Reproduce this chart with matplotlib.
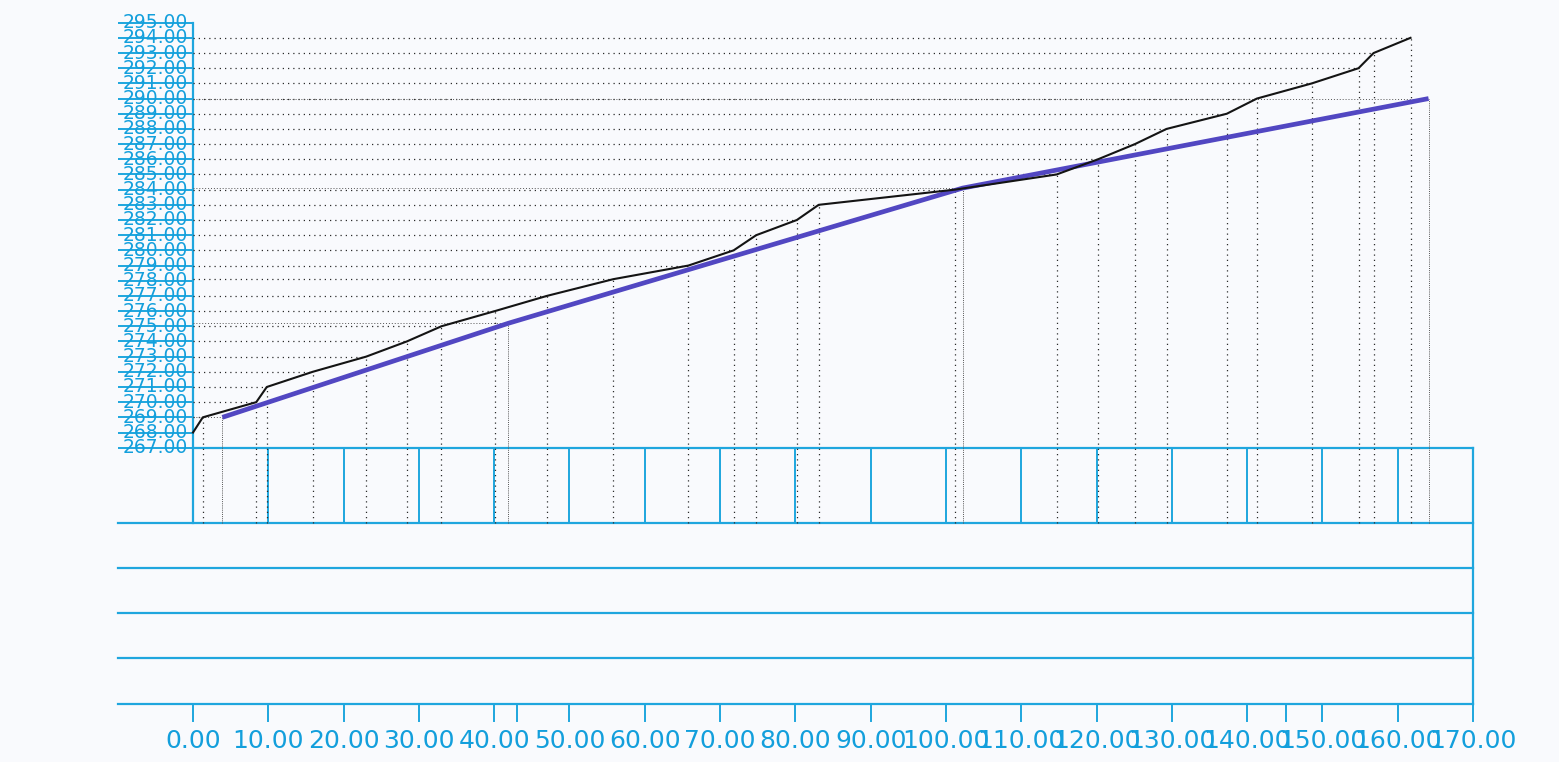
import matplotlib
matplotlib.use("Agg")
import matplotlib.pyplot as plt

# ---------------- data ----------------
ground_station = [0.0, 1.3, 8.4, 9.8, 15.9, 23.0, 28.4, 33.0, 40.1, 47.0, 55.8,
                  65.8, 71.8, 74.8, 80.2, 83.1, 101.2, 114.7, 120.2, 125.1,
                  129.3, 137.3, 141.3, 148.6, 154.8, 156.8, 161.7]
ground_elev = [268.0, 269.0, 270.0, 271.0, 272.0, 273.0, 274.0, 275.0, 276.0,
               277.0, 278.1, 279.0, 280.0, 281.0, 282.0, 283.0, 284.0, 285.0,
               286.0, 287.0, 288.0, 289.0, 290.0, 291.0, 292.0, 293.0, 294.0]
design_station = [3.9, 41.9, 102.2, 164.1]
design_elev = [269.0, 275.2, 284.1, 290.0]
elev_ticks = list(range(267, 296))
station_ticks = list(range(0, 171, 10))
extra_station_ticks = [43.0, 145.2]

# ---------------- layout helpers (pixel -> data) ----------------
W, H = 1559, 762
X0PX, XS = 193.0, 1280.0 / 170.0
Y0PX, YS = 447.7, 15.18


def ypx(p):
    return 267.0 - (p - Y0PX) / YS


BLUE = "#1fa6de"
TXT = "#139fdc"
DOT = "#2b2b2b"

fig = plt.figure(figsize=(W / 100, H / 100), dpi=100)
fig.patch.set_facecolor("#f9fafd")
ax = fig.add_axes([0, 0, 1, 1])
ax.set_facecolor("#f9fafd")
ax.set_xlim(-X0PX / XS, (W - X0PX) / XS)
ax.set_ylim(ypx(H), ypx(0))
ax.axis("off")

left = -10.0
right = 170.0
row_lines = [ypx(p) for p in (522.7, 567.7, 613.0, 658.0, 704.0)]
box_bottom = row_lines[0]

# elevation scale lines and labels
for e in elev_ticks:
    ax.plot([left, 0], [e, e], color=BLUE, lw=1.4, solid_capstyle="butt")
    ax.text(-5.0, e, f"{e:.2f}", color=TXT, fontsize=13.5, ha="center",
            va="center", family="DejaVu Sans")
ax.plot([0, 0], [box_bottom, max(elev_ticks)], color=BLUE, lw=1.6)

# box top and table rows
ax.plot([0, right], [min(elev_ticks)] * 2, color=BLUE, lw=1.6)
for r in row_lines:
    ax.plot([left, right], [r, r], color=BLUE, lw=1.6)
ax.plot([right, right], [row_lines[-1], min(elev_ticks)], color=BLUE, lw=1.6)
for s in station_ticks[1:-1]:
    ax.plot([s, s], [box_bottom, min(elev_ticks)], color=BLUE, lw=1.4)

# bottom ticks and labels
tick_bot = ypx(721)
for s in station_ticks + extra_station_ticks:
    ax.plot([s, s], [row_lines[-1], tick_bot], color=BLUE, lw=1.4)
for s in station_ticks:
    ax.text(s, ypx(741), f"{s:.2f}", color=TXT, fontsize=18, ha="center",
            va="center", family="DejaVu Sans")

# dotted reference lines from ground vertices
for s, e in zip(ground_station[1:], ground_elev[1:]):
    ax.plot([0, s], [e, e], color=DOT, lw=0.9, ls=(0, (1, 3.2)))
    ax.plot([s, s], [box_bottom, e], color=DOT, lw=0.9, ls=(0, (1, 3.2)))
# finer dotted lines from design vertices
for s, e in zip(design_station, design_elev):
    ax.plot([0, s], [e, e], color="#555555", lw=0.7, ls=(0, (1, 2)))
    ax.plot([s, s], [box_bottom, e], color="#555555", lw=0.7, ls=(0, (1, 1.2)))

# profile lines
ax.plot(design_station, design_elev, color="#5247c2", lw=3.4,
        solid_capstyle="butt", zorder=5)
ax.plot(ground_station, ground_elev, color="#141414", lw=1.5, zorder=6)

fig.savefig("out.png", dpi=100, facecolor=fig.get_facecolor())
